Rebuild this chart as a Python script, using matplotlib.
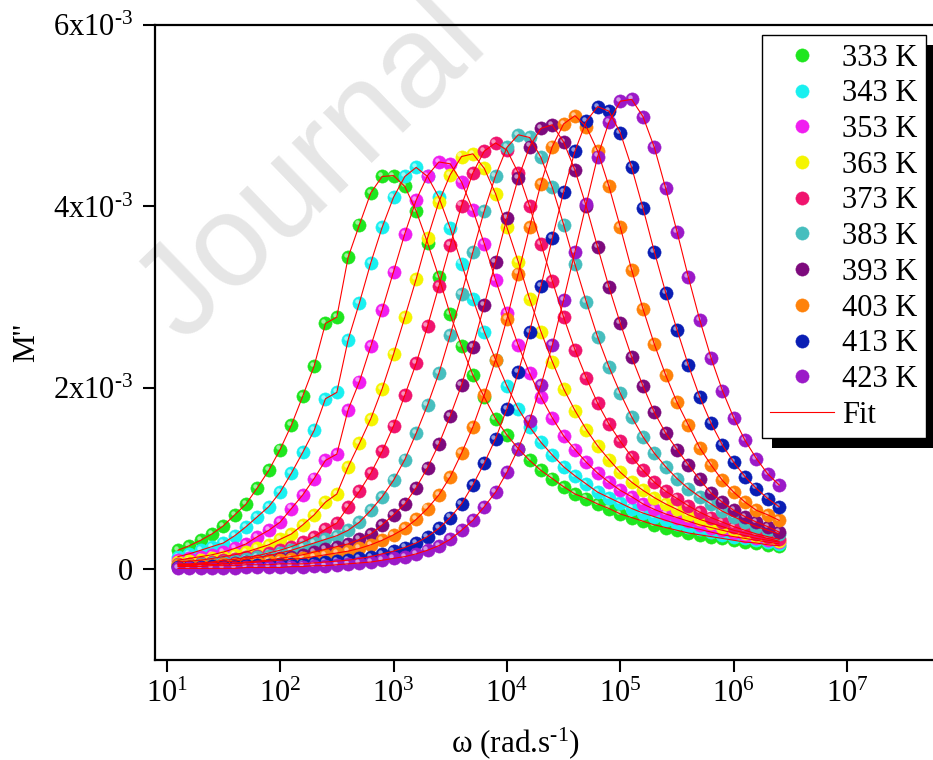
import numpy as np
import matplotlib.pyplot as plt
from matplotlib.transforms import offset_copy, IdentityTransform
from matplotlib.patches import Rectangle
from matplotlib.ticker import FixedLocator, FixedFormatter, NullLocator, LogLocator

plt.rcParams['font.family'] = 'Liberation Serif'
plt.rcParams['mathtext.fontset'] = 'custom'
plt.rcParams['mathtext.rm'] = 'Liberation Serif'
plt.rcParams['mathtext.it'] = 'Liberation Serif:italic'
plt.rcParams['font.size'] = 22

# log10 of angular frequency (rad/s)
log_w = [1.1, 1.2, 1.3, 1.4, 1.5, 1.6, 1.7, 1.8, 1.9, 2.0,
         2.1, 2.2, 2.3, 2.4, 2.5, 2.6, 2.7, 2.8, 2.9, 3.0,
         3.1, 3.2, 3.3, 3.4, 3.5, 3.6, 3.7, 3.8, 3.9, 4.0,
         4.1, 4.2, 4.3, 4.4, 4.5, 4.6, 4.7, 4.8, 4.9, 5.0,
         5.1, 5.2, 5.3, 5.4, 5.5, 5.6, 5.7, 5.8, 5.9, 6.0,
         6.1, 6.2, 6.3, 6.4]

temps = ['333 K', '343 K', '353 K', '363 K', '373 K',
         '383 K', '393 K', '403 K', '413 K', '423 K']
colors = ['#1ee61e', '#19f0f0', '#f01ef0', '#f5f500', '#f0146e',
          '#46bebe', '#7d0a7d', '#ff820a', '#0a1eb4', '#9b19c8']

# M'' in units of 1e-3
m333 = [0.21, 0.26, 0.32, 0.39, 0.48, 0.60, 0.72, 0.90, 1.09, 1.32,
        1.59, 1.91, 2.24, 2.71, 2.78, 3.44, 3.80, 4.15, 4.33, 4.34,
        4.22, 3.95, 3.60, 3.22, 2.81, 2.46, 2.14, 1.90, 1.66, 1.48,
        1.33, 1.20, 1.09, 1.00, 0.91, 0.83, 0.78, 0.72, 0.67, 0.61,
        0.57, 0.53, 0.49, 0.46, 0.43, 0.40, 0.38, 0.36, 0.34, 0.32,
        0.30, 0.29, 0.27, 0.26]
m343 = [0.14, 0.17, 0.21, 0.25, 0.29, 0.37, 0.47, 0.58, 0.69, 0.85,
        1.06, 1.29, 1.53, 1.88, 1.95, 2.53, 2.94, 3.38, 3.77, 4.10,
        4.33, 4.43, 4.33, 4.10, 3.76, 3.37, 2.98, 2.62, 2.31, 2.02,
        1.77, 1.57, 1.40, 1.26, 1.13, 1.03, 0.94, 0.85, 0.79, 0.73,
        0.67, 0.62, 0.58, 0.54, 0.50, 0.47, 0.44, 0.41, 0.38, 0.36,
        0.34, 0.32, 0.30, 0.28]
m353 = [0.10, 0.12, 0.14, 0.16, 0.19, 0.23, 0.28, 0.36, 0.43, 0.52,
        0.67, 0.82, 1.00, 1.20, 1.27, 1.76, 2.07, 2.46, 2.86, 3.28,
        3.70, 4.07, 4.34, 4.49, 4.47, 4.27, 3.96, 3.59, 3.19, 2.82,
        2.47, 2.16, 1.90, 1.67, 1.47, 1.32, 1.18, 1.06, 0.96, 0.87,
        0.80, 0.72, 0.66, 0.61, 0.57, 0.53, 0.49, 0.46, 0.43, 0.40,
        0.37, 0.34, 0.32, 0.30]
m363 = [0.08, 0.09, 0.10, 0.12, 0.14, 0.16, 0.19, 0.23, 0.27, 0.33,
        0.39, 0.49, 0.60, 0.74, 0.83, 1.13, 1.39, 1.66, 1.99, 2.37,
        2.78, 3.20, 3.65, 4.05, 4.35, 4.55, 4.58, 4.42, 4.14, 3.77,
        3.39, 2.98, 2.62, 2.29, 1.99, 1.75, 1.54, 1.36, 1.21, 1.07,
        0.96, 0.87, 0.79, 0.72, 0.66, 0.60, 0.55, 0.51, 0.47, 0.43,
        0.40, 0.37, 0.34, 0.31]
m373 = [0.06, 0.06, 0.07, 0.08, 0.10, 0.11, 0.13, 0.15, 0.18, 0.21,
        0.25, 0.30, 0.36, 0.44, 0.51, 0.69, 0.86, 1.06, 1.30, 1.58,
        1.92, 2.27, 2.68, 3.12, 3.57, 4.01, 4.37, 4.61, 4.70, 4.62,
        4.37, 4.00, 3.59, 3.18, 2.78, 2.42, 2.11, 1.83, 1.60, 1.41,
        1.24, 1.09, 0.96, 0.86, 0.78, 0.70, 0.63, 0.57, 0.52, 0.47,
        0.43, 0.39, 0.36, 0.33]
m383 = [0.05, 0.05, 0.06, 0.07, 0.08, 0.09, 0.11, 0.13, 0.15, 0.18,
        0.21, 0.25, 0.29, 0.33, 0.37, 0.43, 0.52, 0.65, 0.80, 0.98,
        1.21, 1.50, 1.81, 2.16, 2.58, 3.03, 3.50, 3.95, 4.34, 4.65,
        4.79, 4.76, 4.54, 4.21, 3.80, 3.36, 2.95, 2.56, 2.23, 1.94,
        1.68, 1.46, 1.28, 1.13, 1.00, 0.89, 0.80, 0.72, 0.64, 0.58,
        0.52, 0.47, 0.43, 0.39]
m393 = [0.04, 0.04, 0.05, 0.05, 0.06, 0.07, 0.08, 0.09, 0.10, 0.12,
        0.14, 0.16, 0.19, 0.22, 0.25, 0.28, 0.33, 0.39, 0.49, 0.60,
        0.72, 0.90, 1.12, 1.38, 1.69, 2.03, 2.45, 2.91, 3.39, 3.87,
        4.31, 4.66, 4.86, 4.90, 4.71, 4.40, 4.00, 3.55, 3.11, 2.71,
        2.34, 2.02, 1.73, 1.50, 1.32, 1.15, 0.99, 0.84, 0.74, 0.65,
        0.58, 0.52, 0.47, 0.41]
m403 = [0.05, 0.05, 0.05, 0.05, 0.06, 0.06, 0.07, 0.08, 0.09, 0.10,
        0.11, 0.12, 0.14, 0.16, 0.18, 0.20, 0.23, 0.27, 0.32, 0.38,
        0.45, 0.55, 0.67, 0.82, 1.02, 1.28, 1.57, 1.92, 2.31, 2.76,
        3.26, 3.77, 4.25, 4.66, 4.91, 5.00, 4.88, 4.61, 4.22, 3.77,
        3.30, 2.87, 2.48, 2.14, 1.84, 1.59, 1.34, 1.15, 0.98, 0.85,
        0.74, 0.65, 0.60, 0.54]
m413 = [0.03, 0.03, 0.03, 0.04, 0.04, 0.04, 0.05, 0.05, 0.05, 0.06,
        0.06, 0.06, 0.07, 0.08, 0.09, 0.10, 0.12, 0.14, 0.17, 0.20,
        0.24, 0.29, 0.36, 0.45, 0.57, 0.72, 0.93, 1.17, 1.44, 1.77,
        2.17, 2.62, 3.12, 3.65, 4.16, 4.61, 4.94, 5.10, 5.05, 4.81,
        4.43, 3.98, 3.50, 3.05, 2.64, 2.25, 1.90, 1.61, 1.37, 1.18,
        1.02, 0.89, 0.78, 0.69]
m423 = [0.01, 0.01, 0.01, 0.01, 0.01, 0.01, 0.02, 0.02, 0.02, 0.02,
        0.03, 0.03, 0.04, 0.04, 0.05, 0.06, 0.07, 0.08, 0.10, 0.12,
        0.14, 0.17, 0.21, 0.26, 0.33, 0.43, 0.54, 0.69, 0.85, 1.07,
        1.33, 1.64, 2.03, 2.47, 2.97, 3.50, 4.03, 4.55, 4.93, 5.16,
        5.18, 4.99, 4.65, 4.20, 3.72, 3.22, 2.75, 2.33, 1.97, 1.67,
        1.42, 1.22, 1.05, 0.93]
series = [m333, m343, m353, m363, m373, m383, m393, m403, m413, m423]

yticks = [0, 2e-3, 4e-3, 6e-3]
ytick_labels = ['0', r'$\mathdefault{2x10^{\text{-}3}}$',
                r'$\mathdefault{4x10^{\text{-}3}}$',
                r'$\mathdefault{6x10^{\text{-}3}}$']

fig = plt.figure(figsize=(9.33, 7.6), dpi=100)
ax = fig.add_axes([155/933, 1 - 660/760, 778/933, 635/760])
ax.set_facecolor('none')

# watermark
fig.text(183/933, 1 - 343/760, 'Journal', rotation=44,
         rotation_mode='anchor', fontsize=94, family='Liberation Sans',
         color='#e6e6e6', zorder=-1)

w = 10 ** np.array(log_w)
shine = offset_copy(ax.transData, fig=fig, x=-1.5, y=1.5, units='points')

handles = []
for lab, c, m in zip(temps, colors, series):
    y = np.array(m) * 1e-3
    h, = ax.plot(w, y, ls='none', marker='o', ms=9.5, mfc=c, mec=c,
                 mew=0.4, label=lab, zorder=2)
    ax.plot(w, y, ls='none', marker='o', ms=3.2, mfc='white', mec='none',
            alpha=0.55, transform=shine, zorder=2)
    handles.append(h)

for i, m in enumerate(series):
    y = np.array(m) * 1e-3
    fl, = ax.plot(w, y, color='red', lw=0.8, zorder=3,
                  label='Fit' if i == 0 else None)
    if i == 0:
        fit_handle = fl
handles.append(fit_handle)

ax.set_xscale('log')
ax.set_xlim(10 ** 0.897, 10 ** 7.757)
ax.set_ylim(-1e-3, 6e-3)
ax.xaxis.set_major_locator(LogLocator(base=10, numticks=20))
ax.xaxis.set_minor_locator(NullLocator())
ax.yaxis.set_major_locator(FixedLocator(yticks))
ax.yaxis.set_major_formatter(FixedFormatter(ytick_labels))

for s in ['left', 'bottom', 'top']:
    ax.spines[s].set_linewidth(1.6)
ax.spines['right'].set_visible(False)
ax.tick_params(which='major', direction='out', length=8.5, width=1.5,
               labelsize=22, top=False, right=False)
ax.tick_params(axis='y', pad=7)
ax.tick_params(axis='x', pad=6)

ax.set_xlabel(r'ω (rad.s$^{\text{-}1}$)', fontsize=22.5)
ax.xaxis.set_label_coords((516 - 155) / 778, -0.102)
ax.set_ylabel("M''", fontsize=22.5)
ax.yaxis.set_label_coords(-0.147, 0.5)

leg = ax.legend(handles=handles, loc='upper right',
                bbox_to_anchor=(926/933, 1 - 35/760),
                bbox_transform=fig.transFigure, borderaxespad=0,
                fancybox=False, framealpha=1, edgecolor='black',
                fontsize=22, handlelength=2.1, handletextpad=0.25,
                labelspacing=0.22, borderpad=0.28, markerscale=1.0)
leg.get_frame().set_linewidth(1.0)
leg.set_zorder(6)

fig.canvas.draw()
bb = leg.get_window_extent()
shadow = Rectangle((bb.x0 + 10, bb.y0 - 10), bb.width, bb.height,
                   transform=IdentityTransform(), facecolor='black',
                   edgecolor='none', zorder=5.5, clip_on=False)
ax.add_artist(shadow)

fig.savefig('out.png', dpi=100)
